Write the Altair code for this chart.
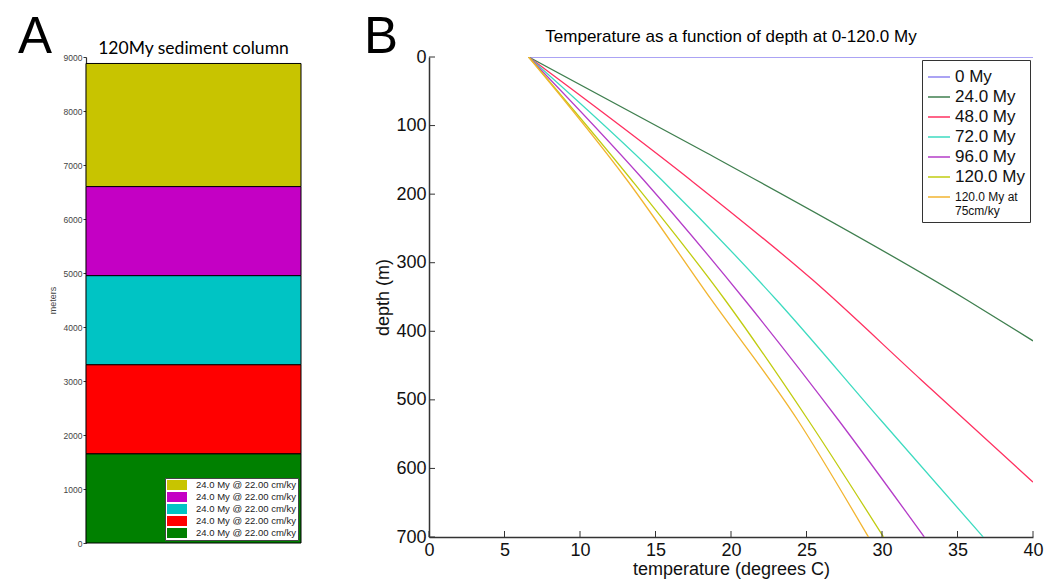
import json
import altair as alt
import pandas as pd

# ---------------- Panel A : sediment column ----------------
layer_keys = ["L5", "L4", "L3", "L2", "L1"]            # top layer first (legend order)
layer_bottom = [6600, 4950, 3300, 1650, 0]
layer_top = [8880, 6600, 4950, 3300, 1650]
layer_colors = ["#c8c400", "#c400c4", "#00c4c4", "#ff0000", "#008000"]
layer_labels = ["24.0 My @ 22.00 cm/ky"] * 5
meter_ticks = [0, 1000, 2000, 3000, 4000, 5000, 6000, 7000, 8000, 9000]
panel_letters = ["A", "B"]
panel_titles = ["120My sediment column", "Temperature as a function of depth at 0-120.0 My"]

# ---------------- Panel B : temperature vs depth ----------------
series_names = ["0 My", "24.0 My", "48.0 My", "72.0 My", "96.0 My", "120.0 My",
                "120.0 My at 75cm/ky"]
series_colors = ["#8f84f0", "#3f7f4f", "#ff3060", "#3ddbc0", "#b43cc8", "#c0cc10", "#f2b530"]
last_label_lines = ["120.0 My at", "75cm/ky"]
series_depth = {
    "0 My": [0, 0],
    "24.0 My": [0, 140, 354, 414],
    "48.0 My": [0, 179, 325, 471, 620],
    "72.0 My": [0, 179, 354, 529, 700],
    "96.0 My": [0, 179, 354, 529, 700],
    "120.0 My": [0, 179, 354, 529, 700],
    "120.0 My at 75cm/ky": [0, 179, 354, 529, 700],
}
series_temp = {
    "0 My": [6.6, 40.0],
    "24.0 My": [6.6, 18.4, 35.6, 40.0],
    "48.0 My": [6.6, 17.3, 25.4, 32.6, 40.0],
    "72.0 My": [6.6, 15.4, 23.0, 29.9, 36.7],
    "96.0 My": [6.6, 14.2, 20.9, 27.1, 32.8],
    "120.0 My": [6.6, 13.4, 19.6, 25.1, 30.1],
    "120.0 My at 75cm/ky": [6.6, 13.1, 18.7, 24.4, 29.1],
}
depth_ticks = [0, 100, 200, 300, 400, 500, 600, 700]
temp_ticks = [0, 5, 10, 15, 20, 25, 30, 35, 40]

WA, HA = 215, 486
WB, HB = 604, 480
AX_FONT = "Liberation Sans"
LETTER_FONT = "Liberation Sans Narrow, Liberation Sans"
TITLE_A_FONT = "Lato"


def text_layer(txt, font, size, x, y, align="left"):
    return alt.Chart(pd.DataFrame({"t": [txt]})).mark_text(
        font=font, fontSize=size, align=align, baseline="alphabetic", color="black"
    ).encode(text="t:N", x=alt.value(x), y=alt.value(y))


# ---------- build Panel A ----------
dfA = pd.DataFrame({"key": layer_keys, "bottom": layer_bottom, "top": layer_top})
label_map = json.dumps(dict(zip(layer_keys, layer_labels)))

rectsA = alt.Chart(dfA).mark_rect(stroke="black", strokeWidth=1).encode(
    x=alt.value(0),
    x2=alt.value(WA),
    y=alt.Y("bottom:Q",
            scale=alt.Scale(domain=[0, 9000], nice=False, zero=False),
            axis=alt.Axis(values=meter_ticks, format="d", title="meters",
                          labelFontSize=8.5, labelFont=AX_FONT, labelColor="#444",
                          tickSize=3, labelPadding=1, tickColor="#333",
                          domainColor="#333", domainWidth=1.2, grid=False,
                          titleFont=AX_FONT, titleFontSize=9, titleFontWeight="normal",
                          titleColor="#444", titlePadding=6, labelOverlap=False,
                          labelFlush=False)),
    y2="top:Q",
    color=alt.Color("key:N",
                    scale=alt.Scale(domain=layer_keys, range=layer_colors),
                    legend=alt.Legend(title=None, orient="bottom-right", offset=3,
                                      labelExpr=label_map + "[datum.value]",
                                      labelFontSize=9.5, labelFont=AX_FONT,
                                      labelColor="#222",
                                      symbolType="M-2,-1H2V1H-2Z", symbolSize=100,
                                      symbolStrokeWidth=0, symbolOffset=5,
                                      labelOffset=14, padding=2, rowPadding=2,
                                      fillColor="white", strokeColor="#444",
                                      symbolOpacity=1, labelLimit=200)),
)

letterA = text_layer(panel_letters[0], LETTER_FONT, 51, -68, -4)
titleA = text_layer(panel_titles[0], TITLE_A_FONT, 17.5, WA / 2, -3, align="center")

panelA = alt.layer(rectsA, letterA, titleA).properties(width=WA, height=HA)

# ---------- build Panel B ----------
rows = []
for s in series_names:
    for i, (d, t) in enumerate(zip(series_depth[s], series_temp[s])):
        rows.append({"series": s, "idx": i, "depth": d, "temp": t})
dfB = pd.DataFrame(rows)

axis_common = dict(labelFont=AX_FONT, labelFontSize=18, labelColor="#111",
                   titleFont=AX_FONT, titleFontSize=18, titleFontWeight="normal",
                   titleColor="#111", ticks=False, domainColor="#333",
                   domainWidth=1.5, grid=False, labelOverlap=False, labelFlush=False)

last_label = series_names[-1]
legend_expr = ("datum.value == '%s' ? ['%s', '%s'] : datum.label"
               % (last_label, last_label_lines[0], last_label_lines[1]))
legend_size_expr = "datum.value == '%s' ? 12 : 17" % last_label

lines = alt.Chart(dfB).mark_line(strokeWidth=1.3, clip=True, interpolate="monotone").encode(
    x=alt.X("temp:Q", scale=alt.Scale(domain=[0, 40], nice=False),
            axis=alt.Axis(values=temp_ticks, title="temperature (degrees C)",
                          labelPadding=4, titlePadding=1, **axis_common)),
    y=alt.Y("depth:Q", scale=alt.Scale(domain=[0, 700], reverse=True, nice=False),
            axis=alt.Axis(values=depth_ticks, title="depth (m)",
                          labelPadding=3, titlePadding=3, **axis_common)),
    color=alt.Color("series:N",
                    scale=alt.Scale(domain=series_names, range=series_colors),
                    legend=alt.Legend(title=None, orient="top-right", offset=3,
                                      labelFontSize=alt.ExprRef(expr=legend_size_expr),
                                      labelFont=AX_FONT,
                                      labelColor="#111", symbolType="stroke",
                                      symbolSize=484, symbolStrokeWidth=1.5,
                                      padding=5, rowPadding=0, labelOffset=4,
                                      fillColor="white", strokeColor="#333",
                                      labelLimit=200, labelExpr=legend_expr)),
    order="idx:Q",
)

ytick = alt.Chart(pd.DataFrame({"depth": depth_ticks})).mark_rule(
    color="#333", strokeWidth=1
).encode(y="depth:Q", x=alt.value(0), x2=alt.value(6))

xtick = alt.Chart(pd.DataFrame({"temp": temp_ticks})).mark_rule(
    color="#333", strokeWidth=1
).encode(x="temp:Q", y=alt.value(HB), y2=alt.value(HB - 6))

letterB = text_layer(panel_letters[1], LETTER_FONT, 51, -65, -4)
titleB = text_layer(panel_titles[1], AX_FONT, 17, WB / 2, -15, align="center")

panelB = alt.layer(lines, ytick, xtick, letterB, titleB).properties(width=WB, height=HB)

chart = alt.hconcat(panelA, panelB, spacing=61).resolve_scale(
    color="independent"
).resolve_legend(color="independent").properties(
    padding={"left": 17, "top": 11, "right": 0, "bottom": 0},
    background="white",
).configure_view(stroke="transparent")

chart.save("out.html", embed_options={"renderer": "svg", "actions": False})
